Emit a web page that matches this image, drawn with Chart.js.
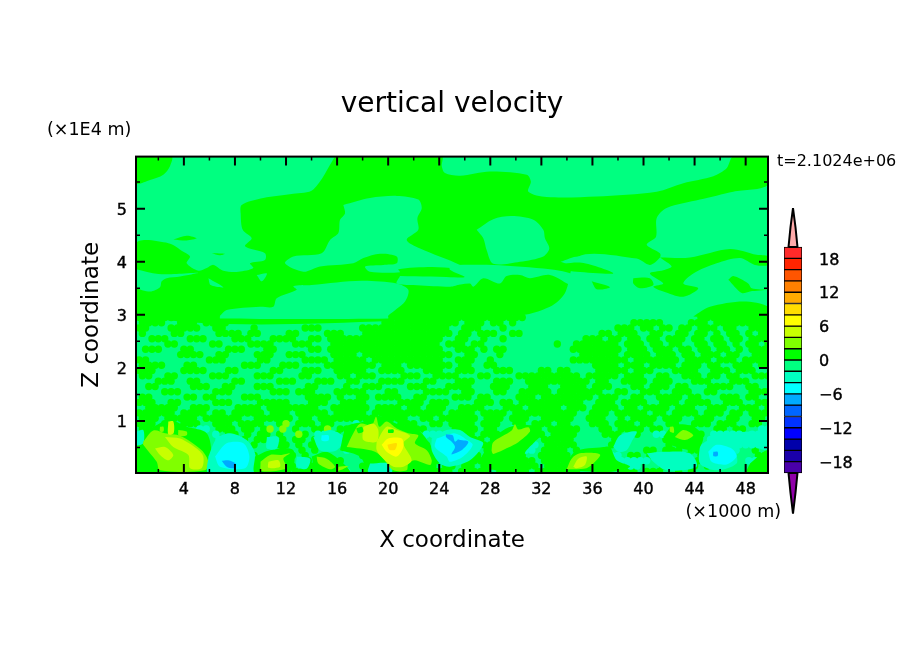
<!DOCTYPE html>
<html><head><meta charset="utf-8">
<style>html,body{margin:0;padding:0;background:#fff;overflow:hidden}canvas{position:absolute}</style>
<script src="https://cdn.jsdelivr.net/npm/chart.js@4"></script></head>
<body>
<canvas id="main" width="904" height="654" style="left:0;top:0;width:904px;height:654px"></canvas>
<canvas id="bar" width="134" height="376" style="left:770px;top:172px;width:134px;height:376px"></canvas>
<script>
// ---- axes ----
const xTicks=[4,8,12,16,20,24,28,32,36,40,44,48];
const xMinorTicks=[2,6,10,14,18,22,26,30,34,38,42,46];
const zTicks=[1,2,3,4,5];
const zMinorTicks=[.5,1.5,2.5,3.5,4.5,5.5];
const xRange=[.25,49.75], zRange=[.02,5.98];
// ---- colour bar ----
const barTicks=[-18,-12,-6,0,6,12,18];
const levelEdges=[20,18,16,14,12,10,8,6,4,2,0,-2,-4,-6,-8,-10,-12,-14,-16,-18,-20];
const levelColors=['#ff2a2a','#ff2400','#ff5500','#ff8000','#ffaa00','#ffdd00','#ffff00','#c8ff00','#80ff00','#00ff00','#00ff80','#00ffc0','#00ffff','#00aaff','#0066ff','#0033ff','#0000ff','#0000aa','#1a00aa','#4a00aa'];
const overColor='#ffaaaa', underColor='#8f00a8';
const overArrow=[[0,20],[.22,23.5],[.5,26.9],[.78,23.5],[1,20]], underArrow=[[0,-20],[.22,-23.5],[.5,-27.2],[.78,-23.5],[1,-20]];
// ---- contour regions read from the field (x km, z 1E4 m) ----
const plotExtent=[[.25,.02],[49.75,.02],[49.75,5.98],[.25,5.98]];
const greenCorner=[[.25,5.98],[3.04,5.98],[2.91,5.8],[2.39,5.64],[1.35,5.54],[.25,5.48]];
const greenMass=[[15.84,5.98],[24.2,5.98],[24.2,5.8],[24.45,5.67],[25.63,5.62],[27.97,5.70],[30.85,5.64],[31.18,5.51],[30.98,5.32],[32.41,5.22],[36.33,5.23],[41.03,5.32],[43.12,5.48],[45.47,5.61],[46.51,5.76],[47.03,5.98],[49.75,5.98],[49.75,5.45],[47.03,5.32],[44.42,5.17],[41.81,5.01],[41.03,4.82],[40.98,4.47],[40.25,4.32],[41.29,4.16],[41.29,4.08],[40.5,3.94],[39.46,4.06],[34.89,4.10],[33.85,3.41],[32.67,3.15],[30.06,2.98],[.25,2.98],[.25,4.34],[2.78,4.35],[3.96,4.19],[4.48,4.10],[4.22,3.97],[5.13,3.83],[5.79,3.88],[6.31,3.94],[7.09,3.83],[8.27,3.81],[9.44,3.88],[9.18,3.97],[10.35,4.03],[10.35,4.16],[8.79,4.29],[9.31,4.44],[8.61,4.60],[8.45,4.91],[8.53,5.07],[10.22,5.20],[12.57,5.28],[14.14,5.36]];
const lightCentre=[[16.49,5.07],[18.58,5.20],[20.67,5.24],[22.36,5.17],[22.63,5.01],[22.29,4.82],[22.36,4.60],[21.45,4.41],[22.5,4.25],[25.63,3.94],[25.63,3.88],[23.41,3.90],[20.8,3.86],[20.93,3.80],[18.58,3.81],[18.19,3.91],[19.62,3.94],[20.67,3.97],[20.67,4.10],[19.36,4.15],[18.06,4.07],[17.27,3.97],[14.66,3.91],[13.36,3.81],[11.92,3.97],[12.57,4.10],[14.79,4.16],[15.45,4.41],[16.1,4.54],[16.23,4.79],[16.62,4.91]];
const lightLeftStrip=[[.25,3.86],[2.0,3.77],[3.44,3.77],[5.13,3.79],[3.7,3.72],[2.65,3.69],[2.26,3.63],[2.13,3.52],[1.35,3.44],[.25,3.53]];
const lightSpotA=[[5.92,3.69],[7.09,3.52],[6.1,3.56]];
const lightSpotB=[[9.7,3.75],[10.5,3.78],[10.1,3.63]];
const lightLower=[[6.83,2.98],[7.35,3.09],[9.96,3.15],[11.0,3.15],[11.27,3.31],[12.84,3.47],[12.57,3.54],[14.01,3.56],[15.97,3.61],[18.06,3.64],[20.67,3.59],[21.58,3.47],[21.32,3.25],[20.0,2.98],[20.0,2.93],[6.83,2.93]];
const lightIsland=[[26.93,4.60],[28.23,4.80],[29.67,4.86],[31.37,4.79],[32.15,4.60],[32.28,4.44],[32.62,4.25],[32.15,4.10],[30.32,4.0],[28.23,3.96],[27.71,4.22],[27.45,4.44]];
const lightStrip=[[24.84,3.94],[28.23,3.94],[32.67,3.86],[33.98,3.80],[35.68,3.63],[35.68,3.56],[34.5,3.54],[32.67,3.75],[31.11,3.69],[30.32,3.75],[29.28,3.73],[28.76,3.59],[27.45,3.69],[26.67,3.53],[26.41,3.59],[24.84,3.56],[24.84,3.69],[26.0,3.71],[24.84,3.85]];
const lightBand=[[20.93,3.73],[25.63,3.69],[25.63,3.59],[24.85,3.53],[21.98,3.56],[20.67,3.59]];
const lightNotch=[[33.5,4.0],[34.9,4.1],[35.3,3.98],[34.5,3.93]];
const greenFleckA=[[3.17,4.42],[4.22,4.49],[5.0,4.44],[4.22,4.40]];
const greenFleckB=[[6.18,4.16],[7.22,4.15],[6.8,4.12]];
const greenRightBand=[[41.29,4.08],[43.64,4.08],[46.77,4.24],[48.86,4.13],[49.75,4.10],[49.75,3.94],[48.73,3.94],[47.56,4.07],[45.73,3.97],[43.9,3.78],[43.12,3.59],[44.29,3.5],[43.12,3.34],[41.55,3.44],[40.77,3.53],[41.55,3.59],[40.5,3.78],[41.55,3.84],[42.2,3.91]];
const greenPatchA=[[39.2,3.69],[40.5,3.69],[40.77,3.56],[39.72,3.5],[39.2,3.59]];
const greenPatchB=[[35.94,3.63],[37.37,3.52],[36.33,3.48]];
const greenPatchC=[[46.64,3.66],[47.03,3.73],[48.2,3.59],[48.47,3.5],[49.64,3.47],[48.34,3.44],[47.69,3.41]];
const greenPatchD=[[43.9,2.97],[45.2,3.15],[47.82,3.25],[49.75,3.15],[49.75,2.9]];
const greenWedge=[[32.67,3.92],[35.15,3.98],[37.63,3.78],[34.76,3.81],[32.67,3.88]];
// noise field z=2.95 ... 0.05, one row each 0.1; 33 cells per chunk, 0.5 km cells
const noiseRows=[
"#############.................... ........####################..... ......................###########",
"####..###.####................... .....############.###.##.#....... ...........#####....###.##########",
"##...#####..##....#.......###.... ..##############..###...#........ .........###.##.##.##.###.##..###",
"#....##.....####.##....##....###. ..##############.##.###..##...... ......##.###..##..##.##.#.##.#.##",
"..###...###....###...####..##.### ###############..##..#..#........ ....###.##.##.##.###.##.##.##.###",
"....##.....##....####...###...### ##############.###.##...........# ..#######.###.##.##..##.##.#.##.#",
".###...##.....###...##.....##.### ###############..###.#.##........ ..########.###.###.##.##.##.#.###",
"......####..##....###..###....### #.##############..##...#......... ...######.####.###.##.###.##..###",
"##.........###.....##.....####.## ###.###########..###..#.......... ..#########.#######.####.###.####",
"####...##.......###...###....#### ####.###.#######.##..##.......... .....####.###.####.###.##..###.##",
"###....####...##.....##...###..## ###..####...###..###...###....##. ##....#####.###...####..###.###..",
"##..##.....###....###....##....## .###....###..####...##....####### ###.#####.###..##..###.##.##..###",
"...###..##.....##.....###...###.. ##...####...##...###...###..##### #####.##..####.###...###...###...",
".##.....###..##...###.....##....# ..###....###...####...###...###.. ####.###...##.###.##...####..##..",
"....###.....###......###.###...## ###...##....####..##...##..#####. #######..##..###..###..##.....###",
"##.....##.##....###.......####.#. .##.####..##....###.##....###.### #####.###..##..####.##...###.##..",
"###..##.....###....#####...###..# ###.....####.###....###.##.###### ####..###.####..###.####..###..##",
".#####..###....####.########..### ###.####.##.###..####...###.##### .###.####.##.####.###..###..###.#",
"######.####.##.#####.###.#####.## ###.###########.####.####.####### ###..###.#####.##.####.###.##.###",
"###.#####.######..######.##.##### ####.####..##.######.###.###..### ##..###..#.####.###..###..##..##.",
"###.##.###..###.####..#y.###.##.. .o..###.###..##.####.###..##.### ##...###.###.##..##..###.###..##.",
"##.###...oo.###.##.#y.y.#..##y.## .oo.###..###....####.##..oo.##.## ###...##.####.##..###...##.##..oo",
".#.##..##.o.o.##.#.##.#..y#.oo.#. .ooo....###.ooo..###.###..o..##.# ###....###.##..oo..##.#.ooooo.ooo",
"...#.#.##...o..##.##..#.##.#.ooo. ...o....#.oo.....####.#.#.ooo.### ##......###.....##.###.ooo..ooooo",
"...#.##.##.....##.#...##.#.##.oo. ...##.......#.#...##.###...ooo.## ###.....#.#......#.##..oooo.ooooo",
"............#.#.......#..#.#....o ...###...........###.#.....oo.### #.#..........##.###.####...o..#..",
"#..............#..#.....#.#...... ..##.........##.#.###.###..#..### ##......oo.##.#.##..#.#........##",
"##....#........#.......#.##....#. ....###....###.##.###.##...##.### ###.....oooooo.###..###......oo##",
"##...##.......##.##....##.###.... ..###.#...####.##.##.####.#.##.## ##...oo.oo.oo...####.#.#.......##",
"###.##...........##..##.####...oo ..##.###.#.#####.#####.###.#.#### ###......###.###..#.#.........###"
];
const noiseCodes={'#':1,'o':-3,'y':3};
// bottom features
const leftBase=[[.25,.73],[1.35,.86],[2.91,1.02],[4.22,.89],[5.79,.77],[6.18,.33],[5.92,.02],[.25,.02]];
const leftEdgeTurq=[[.25,.8],[.82,.83],[.82,.58],[.25,.55]];
const leftLime=[[.82,.61],[1.61,.82],[2.52,.77],[3.7,.72],[5.39,.45],[5.92,.23],[5.65,.07],[2.13,.07],[1.87,.23],[.82,.55]];
const leftYellowA=[[2.52,.70],[3.7,.67],[5.0,.48],[5.52,.33],[5.39,.11],[4.48,.11],[4.35,.36],[3.17,.51]];
const leftYellowB=[[1.74,.48],[2.52,.51],[3.17,.36],[2.78,.26],[2.13,.36]];
const leftTip=[[2.78,.99],[3.17,.99],[3.2,.77],[2.78,.75]];
const leftLimeB=[[3.56,.83],[4.22,.80],[4.22,.73],[3.6,.72]];
const leftLimeC=[[2.13,.89],[2.4,.89],[2.4,.80],[2.13,.80]];
const coldA1=[[5.92,.33],[6.57,.67],[7.61,.77],[8.92,.64],[9.57,.39],[9.57,.02],[5.92,.02]];
const coldA2=[[6.44,.33],[7.35,.58],[8.66,.58],[9.13,.33],[8.79,.11],[6.83,.14]];
const coldA3=[[6.96,.25],[7.48,.26],[8.08,.19],[7.93,.11],[7.35,.14]];
const blobB0=[[9.57,.33],[10.75,.45],[12.57,.45],[12.31,.02],[9.57,.02]];
const blobB1=[[10,.23],[10.75,.36],[11.66,.36],[12.31,.39],[11.79,.29],[12.05,.11],[10.09,.06]];
const blobB2=[[10.62,.23],[11.4,.26],[11.53,.14],[10.62,.12]];
const blobC0=[[14.01,.33],[15.18,.42],[16.49,.2],[17.01,.02],[14.4,.02]];
const blobC1=[[14.4,.33],[15.18,.29],[15.84,.14],[15.45,.09],[14.53,.2]];
const blobC2=[[16.1,.14],[16.88,.15],[16.1,.06]];
const turqA=[[14.14,.7],[15.45,.83],[16.49,.7],[15.97,.45],[14.66,.45]];
const cyanA=[[14.79,.73],[15.32,.73],[15.32,.63],[14.79,.63]];
const turqB=[[12.84,.33],[13.88,.29],[13.62,.1],[12.84,.14]];
const turqC=[[10.5,.7],[11.4,.7],[11.27,.48],[10.5,.48]];
const mainBase=[[16.23,.45],[16.75,.89],[18.06,.99],[19.1,1.11],[20.67,.95],[22.5,.80],[23.8,.26],[23.02,.02],[18.58,.02],[17.8,.33]];
const mainTurq=[[18.58,.2],[20.14,.2],[20.28,.04],[18.45,.04]];
const mainLime=[[16.75,.51],[17.27,.77],[17.8,.95],[18.71,.92],[19.05,1.08],[19.31,.89],[19.88,.99],[20.67,.86],[21.58,.77],[22.36,.73],[22.1,.58],[23.02,.45],[23.41,.26],[23.28,.17],[22.1,.26],[21.58,.2],[21.45,.07],[20.41,.07],[19.62,.29],[18.97,.42],[17.8,.48]];
const mainYellowA=[[18.06,.89],[18.84,.95],[19.23,.83],[19.1,.61],[18.06,.64]];
const mainYellowB=[[19.1,.61],[19.88,.89],[20.67,.83],[21.71,.72],[21.19,.58],[21.84,.26],[21.19,.14],[20.41,.14],[19.62,.29],[19.1,.45]];
const mainCore=[[19.49,.55],[20.0,.67],[21.06,.67],[21.19,.51],[20.67,.33],[19.88,.42]];
const mainPeak=[[19.94,.55],[20.67,.58],[20.54,.46],[20.09,.46]];
const mainSpotA=[[17.5,.86],[17.93,.89],[18.06,.8],[17.67,.77]];
const mainSpotB=[[20,.84],[20.41,.84],[20.41,.78],[20,.78]];
const coldB1=[[23.41,.67],[24.58,.83],[25.63,.83],[26.41,.70],[27.45,.58],[26.41,.26],[24.84,.14],[24.06,.2],[23.41,.45]];
const coldB2=[[23.8,.67],[25.1,.77],[25.63,.73],[26,.67],[26.62,.55],[25.88,.33],[24.84,.23],[24.58,.33],[23.67,.51]];
const coldB3=[[24.53,.75],[25.05,.73],[25.24,.61],[25.63,.70],[25.49,.65],[26.28,.61],[25.75,.45],[24.97,.37],[24.98,.39],[25.24,.51],[24.98,.61],[24.53,.70]];
const blobD0=[[27.32,.33],[28.23,.67],[29.54,.89],[31.11,.92],[32.02,.77],[31.37,.58],[30.71,.39],[30.98,.14],[30.45,.02],[27.45,.14]];
const blobD1=[[28.1,.44],[28.23,.6],[29.67,.82],[29.93,.94],[30.19,.84],[30.98,.88],[31.11,.80],[30.19,.6],[29.41,.5],[28.23,.38]];
const blobE0=[[33.72,.07],[34.63,.42],[36.85,.51],[37.37,.51],[37.9,.26],[38.94,.14],[37.37,.04]];
const blobE1=[[33.98,.09],[34.37,.29],[35.02,.39],[36.59,.37],[36.2,.23],[35.54,.11]];
const blobE2=[[34.5,.14],[34.89,.29],[35.54,.33],[35.41,.17],[34.76,.11]];
const turqD=[[37.63,.51],[38.16,.73],[39.46,.8],[39.07,.61],[38.68,.45],[38.03,.42]];
const turqE=[[40.25,.39],[41.55,.42],[43.64,.39],[44.16,.14],[41.81,.07],[40.77,.23]];
const coldC1=[[44.42,.55],[45.73,.7],[48.34,.8],[49.75,.73],[49.75,.45],[47.82,.58],[47.29,.45],[47.29,.2],[45.73,.07],[44.42,.2]];
const coldC2=[[45.07,.42],[45.73,.55],[46.9,.48],[47.29,.33],[46.51,.18],[45.34,.23]];
const coldC3=[[45.47,.42],[45.8,.42],[45.8,.34],[45.47,.34]];
const blobF0=[[41.55,.7],[42.33,.92],[43.64,.92],[44.29,.83],[44.68,.67],[44.16,.45],[42.59,.51],[41.81,.61]];
const blobF1=[[42.46,.7],[43.12,.83],[43.9,.73],[43.25,.64]];
const blobF2=[[42.07,.89],[42.33,.89],[42.38,.78],[42.07,.8]];
const rightBase=[[48.34,.2],[49.75,.45],[49.75,.02],[48.08,.02]];

const upperLayers=[[plotExtent,-1],[greenCorner,1],[greenMass,1],[lightCentre,-1],[lightLeftStrip,-1],[lightSpotA,-1],[lightSpotB,-1],[lightLower,-1],[lightIsland,-1],[lightStrip,-1],[lightBand,-1],[lightNotch,-1],[greenFleckA,1],[greenFleckB,1],[greenRightBand,1],[greenPatchA,1],[greenPatchB,1],[greenPatchC,1],[greenPatchD,1],[greenWedge,1]];
const lowerLayers=[[leftBase,1],[leftEdgeTurq,-3],[leftLime,3],[leftYellowA,5],[leftYellowB,5],[leftTip,5],[leftLimeB,3],[leftLimeC,3],[coldA1,-3],[coldA2,-5],[coldA3,-7],[blobB0,1],[blobB1,3],[blobB2,5],[blobC0,1],[blobC1,3],[blobC2,3],[turqA,-3],[cyanA,-5],[turqB,-3],[turqC,-3],[mainBase,1],[mainTurq,-3],[mainLime,3],[mainYellowA,5],[mainYellowB,5],[mainCore,7],[mainPeak,9],[mainSpotA,1],[mainSpotB,1],[coldB1,-3],[coldB2,-5],[coldB3,-7],[blobD0,1],[blobD1,3],[blobE0,1],[blobE1,3],[blobE2,5],[turqD,-3],[turqE,-3],[coldC1,-3],[coldC2,-5],[coldC3,-7],[blobF0,1],[blobF1,3],[blobF2,3],[rightBase,1]];

const colorOf=v=>levelColors[Math.floor((20-v)/2)];
const polyDataset=([pts,v])=>({showLine:true,fill:'shape',tension:pts===plotExtent?0:.3,backgroundColor:colorOf(v),borderWidth:0,pointRadius:0,
  data:pts.concat([pts[0]]).map(([x,y])=>({x,y}))});
function noiseDatasets(){
  const out=[];
  for(const code of Object.keys(noiseCodes)){
    const data=[];
    noiseRows.forEach((row,r)=>{
      row.split(' ').forEach((chunk,k)=>{
        [...chunk].forEach((ch,j)=>{ if(ch===code) data.push({x:.5+.5*(k*33+j)+.25*(r%2),y:2.95-.1*r}); });
      });
    });
    out.push({showLine:false,data,pointStyle:'circle',pointRadius:3.7,pointBorderWidth:0,borderWidth:0,
      backgroundColor:colorOf(noiseCodes[code]),pointBackgroundColor:colorOf(noiseCodes[code])});
  }
  return out;
}
const drawBottomUp=[...upperLayers.map(polyDataset),...noiseDatasets(),...lowerLayers.map(polyDataset)];
const setTicks=list=>s=>{s.ticks=list.map(value=>({value}));};
const tickFont={family:'"DejaVu Sans"',size:16};

const framePlugin={id:'frame',
  afterDatasetsDraw(c){
    const {ctx,chartArea:a,scales:{x,y}}=c;
    ctx.save();ctx.strokeStyle='#000';
    const vt=(list,len,w)=>{ctx.lineWidth=w;for(const v of list){const p=x.getPixelForValue(v);
      ctx.beginPath();ctx.moveTo(p,a.bottom);ctx.lineTo(p,a.bottom-len);ctx.moveTo(p,a.top);ctx.lineTo(p,a.top+len);ctx.stroke();}};
    const ht=(list,len,w)=>{ctx.lineWidth=w;for(const v of list){const p=y.getPixelForValue(v);
      ctx.beginPath();ctx.moveTo(a.left,p);ctx.lineTo(a.left+len,p);ctx.moveTo(a.right,p);ctx.lineTo(a.right-len,p);ctx.stroke();}};
    vt(xTicks,9,2);vt(xMinorTicks,4,1.5);ht(zTicks,9,2);ht(zMinorTicks,4,1.5);
    ctx.lineWidth=2;ctx.strokeRect(a.left,a.top,a.right-a.left,a.bottom-a.top);
    ctx.fillStyle='#000';ctx.textBaseline='middle';
    ctx.font='17.5px "DejaVu Sans"';
    ctx.textAlign='left';ctx.fillText('(×1E4 m)',47,130);
    ctx.textAlign='right';ctx.fillText('(×1000 m)',781,512);
    ctx.font='16px "DejaVu Sans"';
    ctx.textAlign='left';ctx.fillText('t=2.1024e+06',777,162);
    ctx.restore();
  }};

new Chart(document.getElementById('main'),{
  type:'scatter',
  data:{datasets:drawBottomUp.slice().reverse()},
  plugins:[framePlugin],
  options:{responsive:false,animation:false,devicePixelRatio:1,
    layout:{padding:{left:0,right:136,top:0,bottom:0},autoPadding:false},
    plugins:{legend:{display:false},tooltip:{enabled:false},
      title:{display:true,fullSize:false,text:'vertical velocity',color:'#000',font:{family:'"DejaVu Sans"',size:28,weight:'normal'},padding:{top:88,bottom:35}}},
    scales:{
      x:{type:'linear',min:xRange[0],max:xRange[1],position:'bottom',grid:{display:false},border:{display:false},
        afterBuildTicks:setTicks(xTicks),afterFit(s){s.height=181;},
        ticks:{autoSkip:false,maxRotation:0,color:'#000',padding:-1,textStrokeColor:'#000',textStrokeWidth:.4,font:tickFont},
        title:{display:true,text:'X coordinate',color:'#000',font:{family:'"DejaVu Sans"',size:23},padding:{top:0,bottom:99}}},
      y:{type:'linear',min:zRange[0],max:zRange[1],position:'left',grid:{display:false},border:{display:false},
        afterBuildTicks:setTicks(zTicks),afterFit(s){s.width=136;},
        ticks:{autoSkip:false,color:'#000',padding:1,labelOffset:2,textStrokeColor:'#000',textStrokeWidth:.4,font:tickFont},
        title:{display:true,text:'Z coordinate',color:'#000',font:{family:'"DejaVu Sans"',size:23},padding:{top:78,bottom:0}}}
    }}
});

// colour bar
const barSets=levelColors.map((col,i)=>({type:'bar',data:[{x:.5,y:[levelEdges[i+1],levelEdges[i]]}],
  backgroundColor:col,borderColor:'#000',borderWidth:1,borderSkipped:false,barThickness:18,grouped:false}));
const arrow=(pts,col)=>({type:'scatter',showLine:true,fill:'shape',backgroundColor:col,borderColor:'#000',borderWidth:2,borderJoinStyle:'bevel',pointRadius:0,clip:false,
  data:pts.concat([pts[0]]).map(([x,y])=>({x,y}))});
new Chart(document.getElementById('bar'),{
  type:'bar',
  data:{datasets:[arrow(overArrow,overColor),arrow(underArrow,underColor),...barSets]},
  options:{responsive:false,animation:false,devicePixelRatio:1,
    layout:{padding:{left:14,top:0,bottom:0,right:0},autoPadding:false},
    plugins:{legend:{display:false},tooltip:{enabled:false}},
    scales:{
      x:{type:'linear',min:0,max:1,display:false},
      y:{type:'linear',min:-30,max:30,position:'right',grid:{display:false},border:{display:false},
        afterBuildTicks:setTicks(barTicks),afterFit(s){s.width=102;},
        ticks:{autoSkip:false,color:'#000',padding:9,labelOffset:2,textStrokeColor:'#000',textStrokeWidth:.4,font:tickFont,
          callback:v=>v<0?'\u2212'+(-v):String(v)}}
    }}
});
</script></body></html>
